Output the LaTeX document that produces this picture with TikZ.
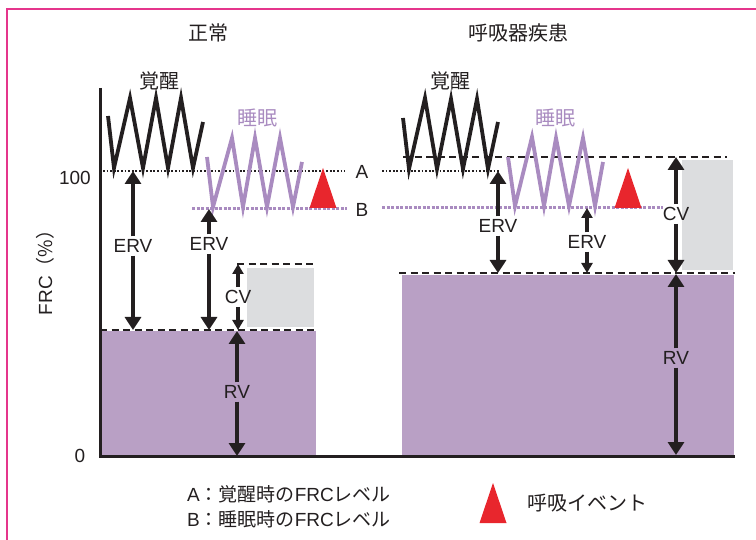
\documentclass[tikz,border=0pt]{standalone}
\usepackage{fontspec}
\setmainfont{Liberation Sans}
\newfontfamily\jp{Noto Sans CJK JP}
\usepackage{tikz}
\usetikzlibrary{
  arrows.meta,
  positioning
}
\definecolor{frcFrame}{HTML}{E5358C}
\definecolor{frcInk}{HTML}{231F20}
\definecolor{frcSleep}{HTML}{A98BC0}
\definecolor{frcRV}{HTML}{B9A0C5}
\definecolor{frcCV}{HTML}{DCDDDF}
\definecolor{frcEvent}{HTML}{E8262D}
\tikzset{
  lbl/.style={font=\fontsize{19}{21}\selectfont, text=frcInk, inner sep=3pt},
  jplbl/.style={font=\jp\fontsize{20}{22}\selectfont, text=frcInk, inner sep=2pt},
  axisline/.style={line width=3pt, frcInk},
  wake/.style={line width=3.8pt, frcInk},
  sleep/.style={line width=3.8pt, frcSleep},
  levelA/.style={line width=1.8pt, frcInk, dash pattern=on 1.8pt off 1.8pt},
  levelB/.style={line width=3pt, frcSleep, dash pattern=on 3pt off 1.5pt},
  levelline/.style={line width=1.6pt, frcInk, dash pattern=on 7pt off 4.5pt},
  dim/.style={-{Triangle[length=13pt,width=16pt]}, line width=4pt, frcInk},
  dimsm/.style={-{Triangle[length=10pt,width=11pt]}, line width=3.5pt, frcInk},
  rvbox/.style={fill=frcRV},
  cvbox/.style={fill=frcCV},
  event/.pic={\fill[frcEvent] (0,0) -- (13.5,40) -- (-13.5,40) -- cycle;}
}

\begin{document}
\begin{tikzpicture}[x=1pt, y=-1pt]
  \useasboundingbox (0,0) rectangle (756,540);
  \draw[frcFrame, line width=2pt] (762,9) -- (7,9) -- (7,546);

  % titles
  \node[jplbl] (tNormal) at (208,33) {正常};
  \node[jplbl] (tDisease) at (518,33) {呼吸器疾患};

  % volumes
  \fill[rvbox] (101,331) rectangle (316,455);
  \fill[cvbox] (247,268) rectangle (314,327);
  \fill[rvbox] (402,275) rectangle (734,455);
  \fill[cvbox] (682,160) rectangle (733,270);

  % axes
  \draw[axisline] (100,88) -- (100,456) -- (735,456);
  \node[lbl, anchor=east] (y100) at (94,178) {100};
  \node[lbl] (y0) at (80,456) {0};
  \node[lbl, rotate=90] (ylab) at (45,268) {FRC{\jp（\%）}};

  % levels
  \draw[levelA] (103,171) -- (345,171);
  \draw[levelB] (192,209) -- (347,209);
  \draw[levelA] (382,171) -- (500,171);
  \draw[levelB] (382,208) -- (663,208);
  \draw[levelline] (100,330) -- (316,330);
  \draw[levelline] (237,264) -- (316,264);
  \draw[levelline] (403,157) -- (727,157);
  \draw[levelline] (399,273) -- (735,273);
  \node[lbl] (lA) at (362,172) {A};
  \node[lbl] (lB) at (362,210) {B};

  % breathing, normal
  \node[jplbl] (wakeN) at (159,81) {覚醒};
  \node[jplbl, text=frcSleep] (sleepN) at (257,118) {睡眠};
  \draw[wake] (108,116) -- (114,168) -- (130,98) -- (143,168) -- (156,98)
    -- (168,168) -- (181,98) -- (193,168) -- (203,122);
  \draw[sleep] (207,157) -- (213,207) -- (232,138) -- (243,207) -- (255,138)
    -- (267,207) -- (280,138) -- (293,207) -- (302,162);
  \pic at (323,168) {event};

  % breathing, disease
  \node[jplbl] (wakeD) at (450,81) {覚醒};
  \node[jplbl, text=frcSleep] (sleepD) at (555,118) {睡眠};
  \draw[wake] (403,118) -- (409,169) -- (425,98) -- (437,169) -- (451,99)
    -- (463,169) -- (477,99) -- (488,169) -- (498,122);
  \draw[sleep] (508,157) -- (515,206) -- (532,137) -- (544,206) -- (556,138)
    -- (569,206) -- (583,138) -- (595,206) -- (603,162);
  \pic at (628,168) {event};

  % arrows, normal
  \coordinate (ervN1t) at (133,171);
  \coordinate (ervN1b) at (133,330);
  \coordinate (ervN2t) at (209,209);
  \coordinate (ervN2b) at (209,330);
  \coordinate (cvNt) at (238,264);
  \coordinate (cvNb) at (238,330);
  \coordinate (rvNt) at (237,331);
  \coordinate (rvNb) at (237,456);
  \node[lbl] (ervN1) at (133,246) {ERV};
  \node[lbl] (ervN2) at (209,244) {ERV};
  \node[lbl] (cvN) at (238,297) {CV};
  \node[lbl] (rvN) at (237,392) {RV};
  \draw[dim] (ervN1) -- (ervN1t);
  \draw[dim] (ervN1) -- (ervN1b);
  \draw[dim] (ervN2) -- (ervN2t);
  \draw[dim] (ervN2) -- (ervN2b);
  \draw[dimsm] (cvN) -- (cvNt);
  \draw[dimsm] (cvN) -- (cvNb);
  \draw[dim] (rvN) -- (rvNt);
  \draw[dim] (rvN) -- (rvNb);

  % arrows, disease
  \coordinate (ervD1t) at (498,171);
  \coordinate (ervD1b) at (498,273);
  \coordinate (ervD2t) at (587,208);
  \coordinate (ervD2b) at (587,273);
  \coordinate (cvDt) at (676,157);
  \coordinate (cvDb) at (676,273);
  \coordinate (rvDt) at (676,274);
  \coordinate (rvDb) at (676,455);
  \node[lbl] (ervD1) at (498,226) {ERV};
  \node[lbl] (ervD2) at (587,242) {ERV};
  \node[lbl] (cvD) at (676,214) {CV};
  \node[lbl] (rvD) at (676,358) {RV};
  \draw[dim] (ervD1) -- (ervD1t);
  \draw[dim] (ervD1) -- (ervD1b);
  \draw[dimsm] (ervD2) -- (ervD2t);
  \draw[dimsm] (ervD2) -- (ervD2b);
  \draw[dim] (cvD) -- (cvDt);
  \draw[dim] (cvD) -- (cvDb);
  \draw[dim] (rvD) -- (rvDt);
  \draw[dim] (rvD) -- (rvDb);

  % legend
  \node[lbl, anchor=west, align=left, font=\fontsize{19}{25}\selectfont] (legAB) at (184,507)
    {A{\jp：覚醒時の}FRC{\jp レベル}\\B{\jp：睡眠時の}FRC{\jp レベル}};
  \pic at (493,483) {event};
  \node[jplbl, anchor=west] (legEvent) at (525,503) {呼吸イベント};
\end{tikzpicture}
\end{document}
